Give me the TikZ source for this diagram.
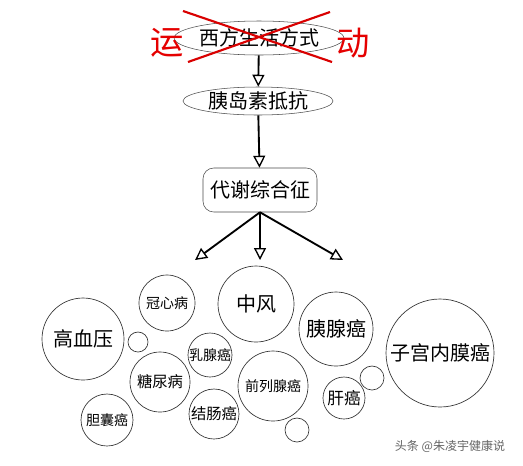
\documentclass[tikz,border=0pt]{standalone}
\usepackage{fontspec}
\setmainfont{Noto Sans CJK SC}
\usetikzlibrary{arrows.meta}
\usetikzlibrary{shapes.geometric}
\tikzset{oval/.style = {draw=black!70, ellipse, inner sep = 0,
                        font=\fontsize{15}{18}\selectfont}}
\tikzset{bubble/.style = {draw=black!80, circle, inner sep = 0, line width=0.5pt}}
\tikzset{bigtext/.style = {font=\fontsize{15}{18}\selectfont}}
\tikzset{smalltext/.style = {font=\fontsize{10.5}{12}\selectfont}}
\tikzset{flow/.style = {line width=1.4pt, -{Triangle[open, length=9pt, width=9pt, line width=1pt]}}}

\begin{document}
\begin{tikzpicture}[x=0.75pt, y=-0.75pt]
      \useasboundingbox[fill=white] (0,0) rectangle (523,465);

      % top of the chain
      \node[oval, minimum width=111pt, minimum height=25.5pt] (life) at (259,38) {西方生活方式};
      \node[oval, minimum width=112.5pt, minimum height=21pt] (insulin) at (258,101) {胰岛素抵抗};
      \node[draw=black!70, rounded corners=8pt, bigtext, minimum width=85.5pt,
            minimum height=33pt, inner sep=0] (syndrome) at (260,190) {代谢综合征};

      % crossed out, with the two red characters
      \draw[red!85!black, line width=1.6pt] (183,11) -- (332,62);
      \draw[red!85!black, line width=1.6pt] (330,12) -- (188,62);
      \node[red!90!black, font=\fontsize{25}{28}\selectfont] (yun) at (167,43) {运};
      \node[red!90!black, font=\fontsize{25}{28}\selectfont] (dong) at (353,43) {动};

      \draw[flow] (life) -- (insulin);
      \draw[flow] (insulin) -- (syndrome);

      \coordinate (left) at (195,260);
      \coordinate (mid) at (260,260);
      \coordinate (right) at (343,260);
      \draw[flow] (syndrome.south) -- (left);
      \draw[flow] (syndrome.south) -- (mid);
      \draw[flow] (syndrome.south) -- (right);

      % the diseases
      \node[bubble, bigtext, minimum size=57pt] (stroke) at (256,304) {中风};
      \node[bubble, bigtext, minimum size=61.5pt] (hyper) at (83,339) {高血压};
      \node[bubble, smalltext, minimum size=42pt] (heart) at (167,303) {冠心病};
      \node[bubble, minimum size=15pt] (dotA) at (138,342) {};
      \node[bubble, smalltext, minimum size=33pt] (breast) at (210,355) {乳腺癌};
      \node[bubble, font=\fontsize{11.5}{13}\selectfont, minimum size=45pt] (diabetes) at (160,382) {糖尿病};
      \node[bubble, smalltext, minimum size=39pt] (gall) at (107,420) {胆囊癌};
      \node[bubble, font=\fontsize{11.5}{13}\selectfont, minimum size=37.5pt] (colon) at (214,414) {结肠癌};
      \node[bubble, smalltext, minimum size=52.5pt] (prostate) at (273,386) {前列腺癌};
      \node[bubble, bigtext, minimum size=55.5pt] (pancreas) at (336,329) {胰腺癌};
      \node[bubble, bigtext, minimum size=81pt] (uterus) at (440,353) {子宫内膜癌};
      \node[bubble, minimum size=18pt] (dotB) at (372,378) {};
      \node[bubble, font=\fontsize{12.5}{14}\selectfont, minimum size=31.5pt] (liver) at (344,398) {肝癌};
      \node[bubble, minimum size=18pt] (dotC) at (297,430) {};

      \node[black!60, font=\fontsize{9}{11}\selectfont] (mark) at (450,446) {头条 @朱凌宇健康说};
\end{tikzpicture}
\end{document}
